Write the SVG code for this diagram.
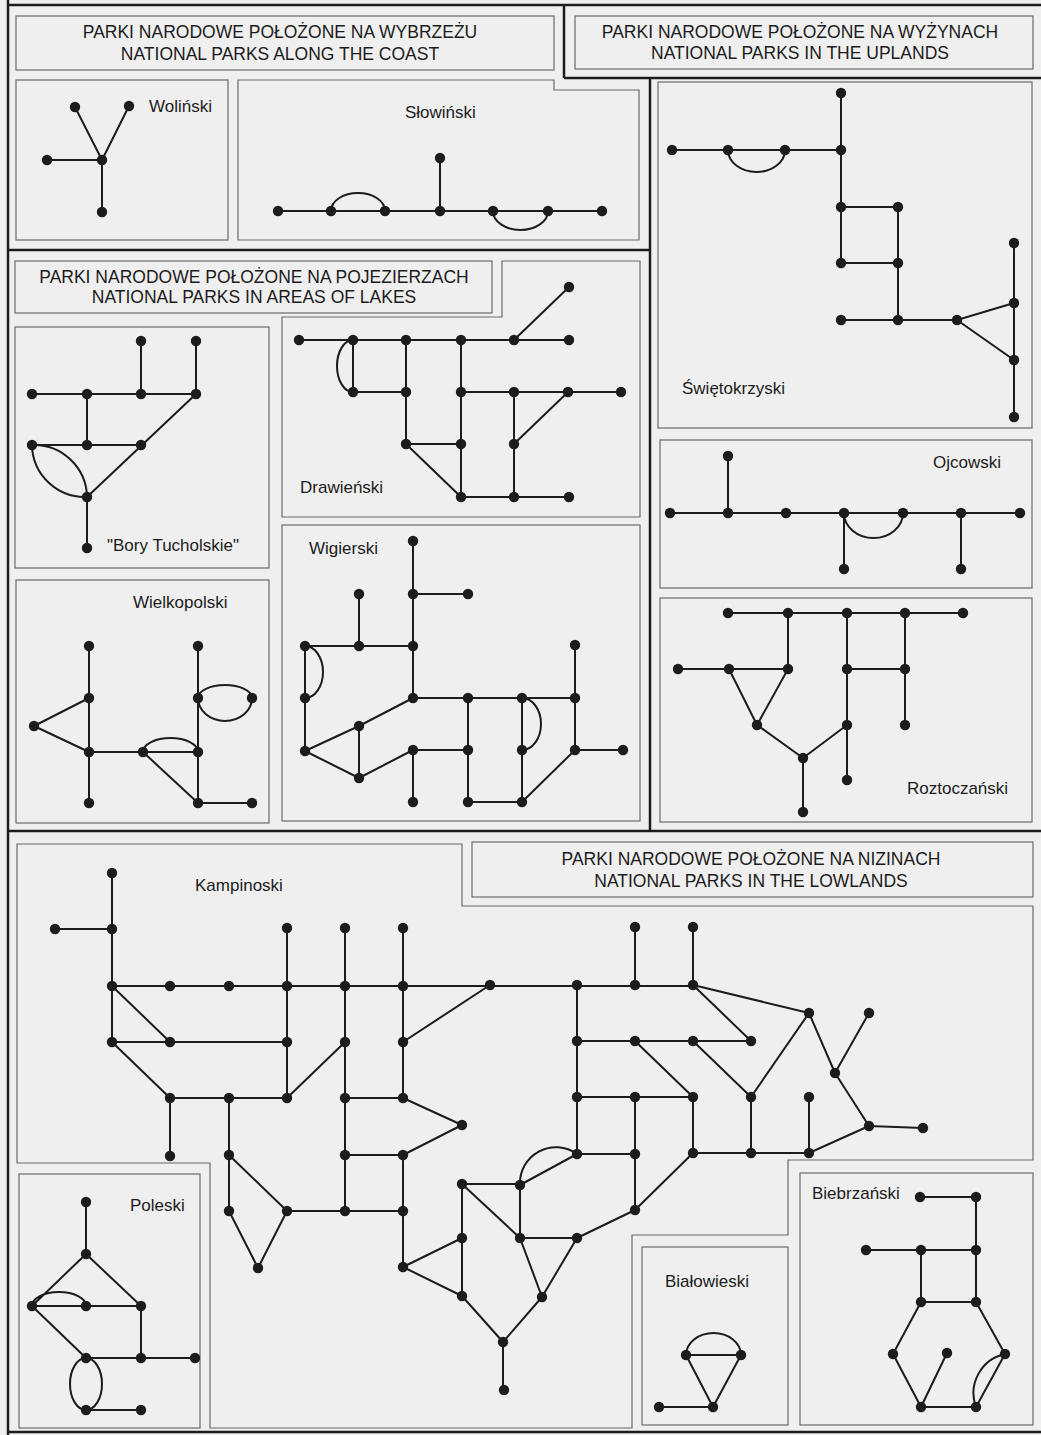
<svg xmlns="http://www.w3.org/2000/svg" width="1041" height="1435" viewBox="0 0 1041 1435">
<style>
.frame{stroke:#1c1c1c;stroke-width:2.5;fill:none}
.box{stroke:#6a6a6a;stroke-width:1.2;fill:none}
.e{stroke:#1c1c1c;stroke-width:2;fill:none;stroke-linejoin:round}
.n use{fill:#1c1c1c}
.h{font-family:"Liberation Sans",Arial,sans-serif;font-size:17.5px;fill:#1c1c1c;text-anchor:middle}
.l{font-family:"Liberation Sans",Arial,sans-serif;font-size:17px;fill:#1c1c1c}
</style>
<defs><circle id="d" r="5.2"/></defs>
<rect x="0" y="0" width="1041" height="1435" fill="#efefef"/>

<g id="frame">
<path class="frame" d="M8 0V1435 M8 5H1041 M564 5V78 M564 78H1041 M8 250H650 M650 78V831 M8 831H1041 M8 1432H1041"/>
</g>

<g id="headers">
<rect class="box" x="16" y="16" width="538" height="54"/>
<text class="h" x="280" y="38">PARKI NARODOWE POŁOŻONE NA WYBRZEŻU</text>
<text class="h" x="280" y="60">NATIONAL PARKS ALONG THE COAST</text>
<rect class="box" x="575" y="16" width="458" height="53"/>
<text class="h" x="800" y="38">PARKI NARODOWE POŁOŻONE NA WYŻYNACH</text>
<text class="h" x="800" y="59">NATIONAL PARKS IN THE UPLANDS</text>
<rect class="box" x="15" y="261" width="477" height="52"/>
<text class="h" x="254" y="283">PARKI NARODOWE POŁOŻONE NA POJEZIERZACH</text>
<text class="h" x="254" y="303">NATIONAL PARKS IN AREAS OF LAKES</text>
<rect class="box" x="472" y="842" width="561" height="55"/>
<text class="h" x="751" y="865">PARKI NARODOWE POŁOŻONE NA NIZINACH</text>
<text class="h" x="751" y="887">NATIONAL PARKS IN THE LOWLANDS</text>
</g>

<g id="boxes">
<rect class="box" x="16" y="80" width="212" height="160"/>
<path class="box" d="M238 80H554V90H639V240H238Z"/>
<rect class="box" x="658" y="82" width="374" height="346"/>
<rect class="box" x="660" y="440" width="372" height="148"/>
<rect class="box" x="660" y="598" width="372" height="224"/>
<rect class="box" x="15" y="327" width="254" height="241"/>
<rect class="box" x="16" y="580" width="253" height="243"/>
<path class="box" d="M282 317H502V261H640V517H282Z"/>
<rect class="box" x="282" y="525" width="358" height="296"/>
<path class="box" d="M17 844H462V906H1033V1160H788V1235H632V1428H210V1163H17Z"/>
<rect class="box" x="19" y="1174" width="181" height="254"/>
<rect class="box" x="642" y="1247" width="146" height="178"/>
<rect class="box" x="800" y="1173" width="233" height="252"/>
</g>

<g id="labels">
<text class="l" x="149" y="112">Woliński</text>
<text class="l" x="405" y="118">Słowiński</text>
<text class="l" x="682" y="394">Świętokrzyski</text>
<text class="l" x="933" y="468">Ojcowski</text>
<text class="l" x="907" y="794">Roztoczański</text>
<text class="l" x="107" y="551">"Bory Tucholskie"</text>
<text class="l" x="300" y="493">Drawieński</text>
<text class="l" x="309" y="554">Wigierski</text>
<text class="l" x="133" y="608">Wielkopolski</text>
<text class="l" x="195" y="891">Kampinoski</text>
<text class="l" x="130" y="1211">Poleski</text>
<text class="l" x="665" y="1287">Białowieski</text>
<text class="l" x="812" y="1199">Biebrzański</text>
</g>

<g id="connectors">
<path id="c-wolinski" class="e" d="M75 107L102 160 M129 106L102 160 M47 160H102 M102 160V212"/>
<path id="c-slowinski" class="e" d="M278 211H602 M440 158V211 M331 211A27 18 0 0 1 385 211 M493 211A27.5 19 0 0 0 548 211"/>
<path id="c-swietokrzyski" class="e" d="M672 150H841 M728 150A28.5 22 0 0 0 785 150 M841 93V263 M841 207H898 M841 263H898 M898 207V320 M841 320H957L1014 303 M957 320L1014 360 M1014 243V417"/>
<path id="c-ojcowski" class="e" d="M670 513H1020 M728 456V513 M844 513V569 M961 513V569 M844 513A29.5 25 0 0 0 903 513"/>
<path id="c-roztoczanski" class="e" d="M728 613H963 M788 613V669 M847 613V780 M905 613V725 M678 669H788 M847 669H905 M729 669L757 725L788 669 M757 725L803 758L847 725 M803 758V812"/>
<path id="c-bory" class="e" d="M141 341V394 M196 341V394 M32 394H196 M87 394V445 M32 445H141 M196 394L87 497 M87 497V548 M32 445A53 53 0 0 1 87 497 M32 445A53 53 0 0 0 87 497"/>
<path id="c-drawienski" class="e" d="M299 340H569 M514 340L569 287 M353 340V392 M353 340A16 26 0 0 0 353 392 M353 392H406 M406 340V444 M461 340V497 M461 392H621 M406 444H461 M406 444L461 497 M514 392V497 M568 392L514 444 M461 497H569"/>
<path id="c-wigierski" class="e" d="M413 541V698 M413 594H468 M359 594V646 M305 646H413 M305 646V751 M305 646A18 26 0 0 1 305 698 M413 698L359 726L305 751 M359 726V778 M305 751L359 778L413 750H468 M413 750V802 M413 698H575 M468 698V802H522 M522 698V802 M522 698A19 26 0 0 1 522 750 M575 645V750H623 M575 750L522 802"/>
<path id="c-wielkopolski" class="e" d="M89 646V803 M89 698L34 726L89 752 M89 752H198 M143 752A27.5 14 0 0 1 198 752 M143 752L198 803 M198 646V803H252 M198 698A27 13 0 0 1 252 698 M198 698A27 23 0 0 0 252 698"/>
<path id="c-kampinoski" class="e" d="M112 873V1042 M55 929H112 M112 986H693 M287 928V1098 M345 928V1211 M403 928V1098 M403 1042L490 985 M112 986L170 1042 M112 1042H287 M112 1042L170 1098 M170 1098H287L345 1042 M170 1098V1156 M229 1098V1211 M229 1155L287 1211 M229 1211L258 1268L287 1211H403 M345 1098H403L462 1125L403 1155H345 M403 1155V1267L462 1238 M403 1267L462 1296 M462 1184V1296 M462 1184H520V1238 M462 1184L520 1238H577L635 1210 M520 1185L577 1154 M520 1185A36 36 0 0 1 577 1154 M520 1238L542 1297L577 1238 M462 1296L503 1342L542 1297 M503 1342V1390 M635 927V985 M693 927V985 M693 985L809 1013 M693 985L751 1041 M577 985V1154 M577 1041H751 M635 1041L693 1097 M693 1041L751 1097L809 1013L835 1073L869 1126L923 1128 M835 1073L869 1013 M869 1126L809 1153 M577 1097H693 M635 1097V1210 M693 1097V1153 M751 1097V1153 M809 1097V1153 M693 1153H809 M693 1153L635 1210 M577 1154H635"/>
<path id="c-poleski" class="e" d="M86 1202V1254L32 1306H141L86 1254 M32 1306A27 14 0 0 1 86 1306 M32 1306L86 1358 M141 1306V1358 M86 1358H195 M86 1358A16 26 0 0 1 86 1410 M86 1358A16 26 0 0 0 86 1410 M86 1410H141"/>
<path id="c-biebrzanski" class="e" d="M920 1197H976V1302 M866 1250H976 M921 1250V1302H976 M921 1302L893 1354L921 1407H976 M976 1302L1005 1354L976 1407 M947 1353L921 1407 M1005 1354A40 40 0 0 0 976 1407"/>
<path id="c-bialowieski" class="e" d="M686 1355H741 M686 1355A27.5 22 0 0 1 741 1355 M686 1355L713 1407L741 1355 M659 1407H713"/>
</g>

<g id="wolinski" class="n">
<use id="wo1" href="#d" x="75" y="107"/><use id="wo2" href="#d" x="129" y="106"/><use id="wo3" href="#d" x="47" y="160"/><use id="wo4" href="#d" x="102" y="160"/><use id="wo5" href="#d" x="102" y="212"/>
</g>
<g id="slowinski" class="n">
<use id="sl1" href="#d" x="278" y="211"/><use id="sl2" href="#d" x="331" y="211"/><use id="sl3" href="#d" x="385" y="211"/><use id="sl4" href="#d" x="440" y="211"/><use id="sl5" href="#d" x="440" y="158"/><use id="sl6" href="#d" x="493" y="211"/><use id="sl7" href="#d" x="548" y="211"/><use id="sl8" href="#d" x="602" y="211"/>
</g>
<g id="swietokrzyski" class="n">
<use id="sw1" href="#d" x="841" y="93"/><use id="sw2" href="#d" x="672" y="150"/><use id="sw3" href="#d" x="728" y="150"/><use id="sw4" href="#d" x="785" y="150"/><use id="sw5" href="#d" x="841" y="150"/><use id="sw6" href="#d" x="841" y="207"/><use id="sw7" href="#d" x="898" y="207"/><use id="sw8" href="#d" x="841" y="263"/><use id="sw9" href="#d" x="898" y="263"/><use id="sw10" href="#d" x="1014" y="243"/><use id="sw11" href="#d" x="841" y="320"/><use id="sw12" href="#d" x="898" y="320"/><use id="sw13" href="#d" x="957" y="320"/><use id="sw14" href="#d" x="1014" y="303"/><use id="sw15" href="#d" x="1014" y="360"/><use id="sw16" href="#d" x="1014" y="417"/>
</g>
<g id="ojcowski" class="n">
<use id="oj1" href="#d" x="670" y="513"/><use id="oj2" href="#d" x="728" y="513"/><use id="oj3" href="#d" x="728" y="456"/><use id="oj4" href="#d" x="786" y="513"/><use id="oj5" href="#d" x="844" y="513"/><use id="oj6" href="#d" x="903" y="513"/><use id="oj7" href="#d" x="961" y="513"/><use id="oj8" href="#d" x="1020" y="513"/><use id="oj9" href="#d" x="844" y="569"/><use id="oj10" href="#d" x="961" y="569"/>
</g>
<g id="roztoczanski" class="n">
<use id="ro1" href="#d" x="728" y="613"/><use id="ro2" href="#d" x="788" y="613"/><use id="ro3" href="#d" x="847" y="613"/><use id="ro4" href="#d" x="905" y="613"/><use id="ro5" href="#d" x="963" y="613"/><use id="ro6" href="#d" x="678" y="669"/><use id="ro7" href="#d" x="729" y="669"/><use id="ro8" href="#d" x="788" y="669"/><use id="ro9" href="#d" x="847" y="669"/><use id="ro10" href="#d" x="905" y="669"/><use id="ro11" href="#d" x="757" y="725"/><use id="ro12" href="#d" x="847" y="725"/><use id="ro13" href="#d" x="905" y="725"/><use id="ro14" href="#d" x="803" y="758"/><use id="ro15" href="#d" x="847" y="780"/><use id="ro16" href="#d" x="803" y="812"/>
</g>
<g id="bory" class="n">
<use id="bo1" href="#d" x="141" y="341"/><use id="bo2" href="#d" x="196" y="341"/><use id="bo3" href="#d" x="32" y="394"/><use id="bo4" href="#d" x="87" y="394"/><use id="bo5" href="#d" x="141" y="394"/><use id="bo6" href="#d" x="196" y="394"/><use id="bo7" href="#d" x="32" y="445"/><use id="bo8" href="#d" x="87" y="445"/><use id="bo9" href="#d" x="141" y="445"/><use id="bo10" href="#d" x="87" y="497"/><use id="bo11" href="#d" x="87" y="548"/>
</g>
<g id="drawienski" class="n">
<use id="dr1" href="#d" x="299" y="340"/><use id="dr2" href="#d" x="353" y="340"/><use id="dr3" href="#d" x="406" y="340"/><use id="dr4" href="#d" x="461" y="340"/><use id="dr5" href="#d" x="514" y="340"/><use id="dr6" href="#d" x="569" y="340"/><use id="dr7" href="#d" x="569" y="287"/><use id="dr8" href="#d" x="353" y="392"/><use id="dr9" href="#d" x="406" y="392"/><use id="dr10" href="#d" x="461" y="392"/><use id="dr11" href="#d" x="514" y="392"/><use id="dr12" href="#d" x="568" y="392"/><use id="dr13" href="#d" x="621" y="392"/><use id="dr14" href="#d" x="406" y="444"/><use id="dr15" href="#d" x="461" y="444"/><use id="dr16" href="#d" x="514" y="444"/><use id="dr17" href="#d" x="461" y="497"/><use id="dr18" href="#d" x="514" y="497"/><use id="dr19" href="#d" x="569" y="497"/>
</g>
<g id="wigierski" class="n">
<use id="wi1" href="#d" x="413" y="541"/><use id="wi2" href="#d" x="413" y="594"/><use id="wi3" href="#d" x="468" y="594"/><use id="wi4" href="#d" x="359" y="594"/><use id="wi5" href="#d" x="305" y="646"/><use id="wi6" href="#d" x="359" y="646"/><use id="wi7" href="#d" x="413" y="646"/><use id="wi8" href="#d" x="305" y="698"/><use id="wi9" href="#d" x="413" y="698"/><use id="wi10" href="#d" x="468" y="698"/><use id="wi11" href="#d" x="522" y="698"/><use id="wi12" href="#d" x="575" y="698"/><use id="wi13" href="#d" x="575" y="645"/><use id="wi14" href="#d" x="359" y="726"/><use id="wi15" href="#d" x="305" y="751"/><use id="wi16" href="#d" x="413" y="750"/><use id="wi17" href="#d" x="468" y="750"/><use id="wi18" href="#d" x="522" y="750"/><use id="wi19" href="#d" x="575" y="750"/><use id="wi20" href="#d" x="623" y="750"/><use id="wi21" href="#d" x="359" y="778"/><use id="wi22" href="#d" x="413" y="802"/><use id="wi23" href="#d" x="468" y="802"/><use id="wi24" href="#d" x="522" y="802"/>
</g>
<g id="wielkopolski" class="n">
<use id="wk1" href="#d" x="89" y="646"/><use id="wk2" href="#d" x="198" y="646"/><use id="wk3" href="#d" x="89" y="698"/><use id="wk4" href="#d" x="198" y="698"/><use id="wk5" href="#d" x="252" y="698"/><use id="wk6" href="#d" x="34" y="726"/><use id="wk7" href="#d" x="89" y="752"/><use id="wk8" href="#d" x="143" y="752"/><use id="wk9" href="#d" x="198" y="752"/><use id="wk10" href="#d" x="89" y="803"/><use id="wk11" href="#d" x="198" y="803"/><use id="wk12" href="#d" x="252" y="803"/>
</g>
<g id="kampinoski" class="n">
<use href="#d" x="112" y="873"/><use href="#d" x="55" y="929"/><use href="#d" x="112" y="929"/><use href="#d" x="287" y="928"/><use href="#d" x="345" y="928"/><use href="#d" x="403" y="928"/>
<use href="#d" x="112" y="986"/><use href="#d" x="170" y="986"/><use href="#d" x="229" y="986"/><use href="#d" x="287" y="986"/><use href="#d" x="345" y="986"/><use href="#d" x="403" y="986"/><use href="#d" x="490" y="985"/><use href="#d" x="577" y="985"/><use href="#d" x="635" y="985"/><use href="#d" x="693" y="985"/>
<use href="#d" x="635" y="927"/><use href="#d" x="693" y="927"/>
<use href="#d" x="112" y="1042"/><use href="#d" x="170" y="1042"/><use href="#d" x="287" y="1042"/><use href="#d" x="345" y="1042"/><use href="#d" x="403" y="1042"/><use href="#d" x="577" y="1041"/><use href="#d" x="635" y="1041"/><use href="#d" x="693" y="1041"/><use href="#d" x="751" y="1041"/>
<use href="#d" x="809" y="1013"/><use href="#d" x="869" y="1013"/><use href="#d" x="835" y="1073"/>
<use href="#d" x="170" y="1098"/><use href="#d" x="229" y="1098"/><use href="#d" x="287" y="1098"/><use href="#d" x="345" y="1098"/><use href="#d" x="403" y="1098"/><use href="#d" x="577" y="1097"/><use href="#d" x="635" y="1097"/><use href="#d" x="693" y="1097"/><use href="#d" x="751" y="1097"/><use href="#d" x="809" y="1097"/>
<use href="#d" x="462" y="1125"/><use href="#d" x="869" y="1126"/><use href="#d" x="923" y="1128"/>
<use href="#d" x="170" y="1156"/><use href="#d" x="229" y="1155"/><use href="#d" x="345" y="1155"/><use href="#d" x="403" y="1155"/><use href="#d" x="577" y="1154"/><use href="#d" x="635" y="1154"/><use href="#d" x="693" y="1153"/><use href="#d" x="751" y="1153"/><use href="#d" x="809" y="1153"/>
<use href="#d" x="462" y="1184"/><use href="#d" x="520" y="1185"/>
<use href="#d" x="229" y="1211"/><use href="#d" x="287" y="1211"/><use href="#d" x="345" y="1211"/><use href="#d" x="403" y="1211"/><use href="#d" x="635" y="1210"/>
<use href="#d" x="462" y="1238"/><use href="#d" x="520" y="1238"/><use href="#d" x="577" y="1238"/>
<use href="#d" x="258" y="1268"/><use href="#d" x="403" y="1267"/>
<use href="#d" x="462" y="1296"/><use href="#d" x="542" y="1297"/><use href="#d" x="503" y="1342"/><use href="#d" x="504" y="1390"/>
</g>
<g id="poleski" class="n">
<use href="#d" x="86" y="1202"/><use href="#d" x="86" y="1254"/><use href="#d" x="32" y="1306"/><use href="#d" x="86" y="1306"/><use href="#d" x="141" y="1306"/><use href="#d" x="86" y="1358"/><use href="#d" x="141" y="1358"/><use href="#d" x="195" y="1358"/><use href="#d" x="86" y="1410"/><use href="#d" x="141" y="1410"/>
</g>
<g id="biebrzanski" class="n">
<use href="#d" x="920" y="1197"/><use href="#d" x="976" y="1197"/><use href="#d" x="866" y="1250"/><use href="#d" x="921" y="1250"/><use href="#d" x="976" y="1250"/><use href="#d" x="921" y="1302"/><use href="#d" x="976" y="1302"/><use href="#d" x="893" y="1354"/><use href="#d" x="947" y="1353"/><use href="#d" x="1005" y="1354"/><use href="#d" x="921" y="1407"/><use href="#d" x="976" y="1407"/>
</g>
<g id="bialowieski" class="n">
<use href="#d" x="686" y="1355"/><use href="#d" x="741" y="1355"/><use href="#d" x="713" y="1407"/><use href="#d" x="659" y="1407"/>
</g>
</svg>
